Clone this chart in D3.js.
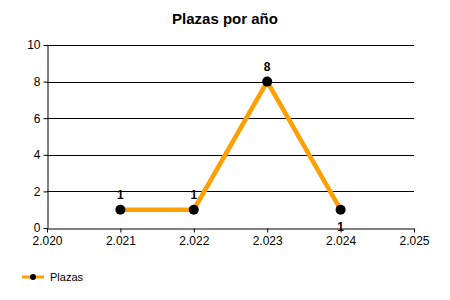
<!DOCTYPE html>
<html>
<head>
<meta charset="utf-8">
<script src="https://cdn.jsdelivr.net/npm/d3@7"></script>
<style>
  html, body { margin: 0; padding: 0; background: #fff; }
  svg { display: block; font-family: "Liberation Sans", Arial, sans-serif; }
</style>
</head>
<body>
<svg id="chart" width="450" height="300"></svg>
<script>
// Plazas por año
const years = [2.021, 2.022, 2.023, 2.024];
const plazas = [1, 1, 8, 1];
const xTicks = [2.020, 2.021, 2.022, 2.023, 2.024, 2.025];
const yTicks = [0, 2, 4, 6, 8, 10];
const labelBelow = [false, false, false, true];

(function () {
  const svg = d3.select("#chart");
  const plotLeft = 47, plotRight = 414, plotTop = 45, plotBottom = 228;

  const x = d3.scaleLinear().domain([2.020, 2.025]).range([plotLeft, plotRight]);
  const y = d3.scaleLinear().domain([0, 10]).range([plotBottom, plotTop]);

  const fmt = v => v.toFixed(3);

  // title
  svg.append("text")
    .attr("x", 225).attr("y", 24)
    .attr("text-anchor", "middle")
    .attr("font-size", 15).attr("font-weight", "bold")
    .text("Plazas por año");

  // horizontal grid lines
  svg.append("g").selectAll("line")
    .data(yTicks.filter(d => d > 0))
    .join("line")
    .attr("x1", plotLeft).attr("x2", plotRight)
    .attr("y1", d => Math.round(y(d)) + 0.5).attr("y2", d => Math.round(y(d)) + 0.5)
    .attr("stroke", "#000").attr("stroke-width", 1);

  // y axis
  const yAxis = svg.append("g")
    .attr("transform", `translate(${plotLeft + 0.5},0)`)
    .call(d3.axisLeft(y).tickValues(yTicks).tickSize(4).tickSizeOuter(0).tickPadding(3));
  yAxis.select(".domain").attr("stroke", "#000");
  yAxis.selectAll("text").attr("font-size", 12).attr("font-family", "Liberation Sans, Arial, sans-serif").attr("fill", "#000");

  // x axis
  const xAxis = svg.append("g")
    .attr("transform", `translate(0,${plotBottom + 0.5})`)
    .call(d3.axisBottom(x).tickValues(xTicks).tickFormat(fmt).tickSize(4).tickSizeOuter(0).tickPadding(4));
  xAxis.select(".domain").attr("stroke", "#000");
  xAxis.selectAll("text").attr("font-size", 12).attr("font-family", "Liberation Sans, Arial, sans-serif").attr("fill", "#000");

  // series line
  const pts = years.map((yr, i) => [x(yr), y(plazas[i])]);
  svg.append("path")
    .attr("d", d3.line()(pts))
    .attr("fill", "none")
    .attr("stroke", "#FFA000")
    .attr("stroke-width", 4.5)
    .attr("stroke-linejoin", "miter");

  // markers
  svg.append("g").selectAll("circle")
    .data(pts)
    .join("circle")
    .attr("cx", d => d[0]).attr("cy", d => d[1])
    .attr("r", 5).attr("fill", "#000");

  // value labels
  svg.append("g").selectAll("text")
    .data(years.map((yr, i) => ({ yr, v: plazas[i], below: labelBelow[i] })))
    .join("text")
    .attr("x", d => x(d.yr))
    .attr("y", d => d.below ? y(d.v) + 21 : y(d.v) - 11)
    .attr("text-anchor", "middle")
    .attr("font-size", 12).attr("font-weight", "bold")
    .text(d => d.v);

  // legend
  const lg = svg.append("g").attr("transform", "translate(22,277)");
  lg.append("line").attr("x1", 0).attr("x2", 22).attr("y1", 0).attr("y2", 0)
    .attr("stroke", "#FFA000").attr("stroke-width", 3);
  lg.append("circle").attr("cx", 11).attr("cy", 0).attr("r", 3).attr("fill", "#000");
  lg.append("text").attr("x", 28).attr("y", 4).attr("font-size", 11).text("Plazas");
})();
</script>
</body>
</html>
